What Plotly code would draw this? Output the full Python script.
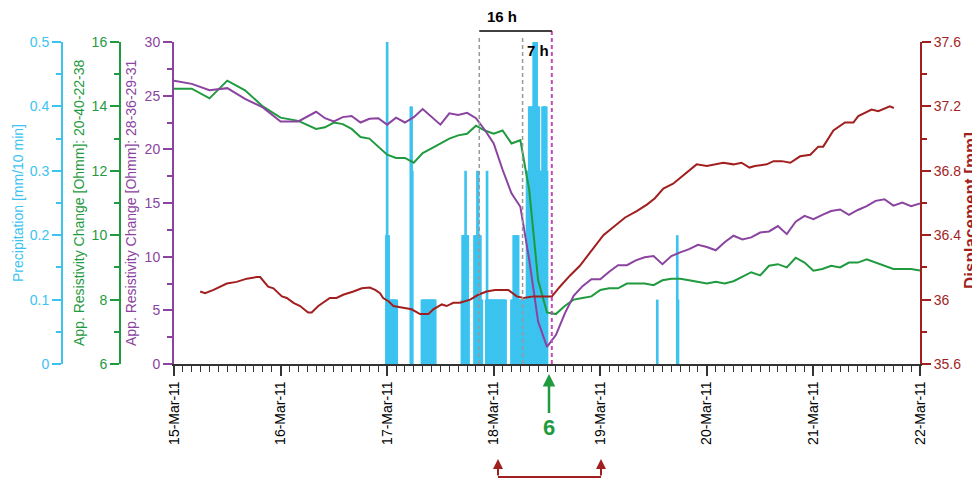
import pandas as pd
import plotly.graph_objects as go

# ---------------- data ----------------
BASE = pd.Timestamp("2011-03-15 00:00")

# apparent resistivity series: hours since 15-Mar-2011 00:00
res_hours = [0, 4, 8, 12, 16, 20, 24, 28, 32,
             34, 36, 38, 40, 42, 44, 46, 48, 50, 52, 54, 56, 58, 60, 62, 64, 66, 68,
             70, 72, 74, 76, 78, 80, 82, 84, 86, 88, 90, 92, 94, 96, 98, 100, 102,
             104, 106, 108, 110, 112, 114, 116, 118, 120, 122, 124, 126, 128, 130,
             132, 134, 136, 138, 140, 142, 144, 146, 148, 150, 152, 154, 156, 158,
             160, 162, 164, 166, 168]

res_28_36_29_31 = [26.4, 26.1, 25.5, 25.7, 24.7, 23.9, 22.6, 22.6, 23.5,
                   22.9, 22.6, 23.0, 23.1, 22.5, 22.85, 22.9, 22.3, 22.95, 22.5, 23.0,
                   23.75, 23.05, 22.3, 23.35, 23.2, 23.4, 22.9,
                   21.8, 20.55, 18.1, 15.9, 14.65, 9.7, 3.95, 1.6, 2.7, 4.7, 6.35, 7.25,
                   7.9, 7.9, 8.6, 9.2, 9.2, 9.65, 9.95, 10.05, 9.3, 10.05, 10.4, 10.7,
                   11.1, 10.9, 10.6, 11.35, 11.95, 11.6, 11.8, 12.25, 12.35, 12.85, 12.1,
                   13.25, 13.8, 13.5, 13.9, 14.25, 14.4, 13.9, 14.35, 14.7, 15.2, 15.35,
                   14.75, 15.05, 14.7, 14.95]

res_20_40_22_38 = [14.55, 14.55, 14.25, 14.8, 14.5, 14.0, 13.65, 13.55, 13.3,
                   13.35, 13.5, 13.45, 13.3, 13.05, 13.0, 12.75, 12.5, 12.4, 12.4, 12.25,
                   12.55, 12.7, 12.85, 13.0, 13.1, 13.15, 13.4,
                   13.25, 13.15, 13.25, 12.85, 12.95, 11.4, 8.6, 7.6, 7.55, 7.8, 8.0, 8.05,
                   8.1, 8.3, 8.35, 8.35, 8.5, 8.5, 8.5, 8.45, 8.6, 8.65, 8.65, 8.6,
                   8.55, 8.5, 8.55, 8.5, 8.57, 8.7, 8.85, 8.75, 9.05, 9.1, 9.0,
                   9.3, 9.15, 8.9, 8.95, 9.05, 9.0, 9.15, 9.15, 9.25, 9.15, 9.05,
                   8.95, 8.95, 8.95, 8.9]

# displacement: hours since 15-Mar-2011 00:00
disp_hours = [5.9, 7.0, 8.9, 11.9, 14.1, 16.4, 18.6, 19.4, 21.2, 22.4, 24.3, 25.4,
              26.9, 28.4, 30.2, 31.0, 32.5, 34.0, 35.1, 36.6, 38.1, 40.4, 42.3, 44.1,
              45.3, 46.4, 47.1, 48.3, 49.4, 51.6, 53.5, 55.4, 57.3, 58.4, 60.3, 61.4,
              62.9, 64.4, 66.7, 68.5, 70.4, 72.3, 73.8, 75.3, 77.2, 78.7, 80.9, 85.1,
              86.9, 89.2, 91.4, 93.7, 96.7, 98.9, 101.6, 104.2, 106.5, 108.3, 110.2,
              112.4, 115.5, 117.7, 120.0, 123.7, 126.0, 127.8, 129.6, 130.8, 133.5,
              135.0, 136.9, 138.8, 141.0, 143.3, 145.1, 146.2, 148.5, 151.1, 153.0,
              154.1, 157.1, 158.6, 161.2, 162.1]
disp_mm = [36.05, 36.04, 36.06, 36.10, 36.11, 36.13, 36.14, 36.14, 36.08, 36.07, 36.02,
           36.01, 35.98, 35.96, 35.92, 35.92, 35.96, 35.99, 36.01, 36.01, 36.03, 36.05,
           36.07, 36.075, 36.06, 36.04, 36.01, 35.99, 35.96, 35.95, 35.94, 35.91, 35.91,
           35.94, 35.97, 35.96, 35.98, 35.98, 36.00, 36.03, 36.05, 36.06, 36.06, 36.06,
           36.02, 36.01, 36.02, 36.02, 36.08, 36.15, 36.21, 36.29, 36.40, 36.45, 36.51,
           36.55, 36.59, 36.63, 36.69, 36.72, 36.79, 36.84, 36.83, 36.85, 36.84, 36.85,
           36.82, 36.83, 36.84, 36.86, 36.86, 36.85, 36.89, 36.90, 36.95, 36.95, 37.05,
           37.10, 37.10, 37.14, 37.18, 37.17, 37.20, 37.19]

# precipitation [mm / 10 min]
precip_time = [
    "2011-03-16 23:50", "2011-03-17 00:00", "2011-03-17 00:10", "2011-03-17 00:20",
    "2011-03-17 00:30", "2011-03-17 00:40", "2011-03-17 00:50", "2011-03-17 01:00",
    "2011-03-17 01:10", "2011-03-17 01:20", "2011-03-17 01:30", "2011-03-17 01:40",
    "2011-03-17 01:50", "2011-03-17 02:00", "2011-03-17 02:10",
    "2011-03-17 05:20", "2011-03-17 05:30", "2011-03-17 05:40",
    "2011-03-17 07:50", "2011-03-17 08:00", "2011-03-17 08:10", "2011-03-17 08:20",
    "2011-03-17 08:30", "2011-03-17 08:40", "2011-03-17 08:50", "2011-03-17 09:00",
    "2011-03-17 09:10", "2011-03-17 09:20", "2011-03-17 09:30", "2011-03-17 09:40",
    "2011-03-17 09:50", "2011-03-17 10:00", "2011-03-17 10:10", "2011-03-17 10:20",
    "2011-03-17 10:30", "2011-03-17 10:40", "2011-03-17 10:50",
    "2011-03-17 16:50", "2011-03-17 17:00", "2011-03-17 17:10", "2011-03-17 17:20",
    "2011-03-17 17:30", "2011-03-17 17:40", "2011-03-17 17:50", "2011-03-17 18:00",
    "2011-03-17 18:10", "2011-03-17 18:20",
    "2011-03-17 19:40", "2011-03-17 19:50", "2011-03-17 20:00", "2011-03-17 20:10",
    "2011-03-17 20:20", "2011-03-17 20:30", "2011-03-17 20:40", "2011-03-17 20:50",
    "2011-03-17 21:00", "2011-03-17 21:10", "2011-03-17 21:20",
    "2011-03-17 22:20", "2011-03-17 22:30", "2011-03-17 22:40", "2011-03-17 22:50",
    "2011-03-17 23:00", "2011-03-17 23:10", "2011-03-17 23:20", "2011-03-17 23:30",
    "2011-03-17 23:40", "2011-03-17 23:50", "2011-03-18 00:00", "2011-03-18 00:10",
    "2011-03-18 00:20", "2011-03-18 00:30", "2011-03-18 00:40", "2011-03-18 00:50",
    "2011-03-18 01:00", "2011-03-18 01:10", "2011-03-18 01:20", "2011-03-18 01:30",
    "2011-03-18 01:40", "2011-03-18 01:50", "2011-03-18 02:00", "2011-03-18 02:10",
    "2011-03-18 02:20", "2011-03-18 02:30", "2011-03-18 02:40",
    "2011-03-18 04:00", "2011-03-18 04:10", "2011-03-18 04:20", "2011-03-18 04:30",
    "2011-03-18 04:40", "2011-03-18 04:50", "2011-03-18 05:00", "2011-03-18 05:10",
    "2011-03-18 05:20", "2011-03-18 05:30", "2011-03-18 05:40", "2011-03-18 05:50",
    "2011-03-18 06:00", "2011-03-18 06:10", "2011-03-18 06:20", "2011-03-18 06:30",
    "2011-03-18 06:40", "2011-03-18 06:50", "2011-03-18 07:00", "2011-03-18 07:10",
    "2011-03-18 07:20", "2011-03-18 07:30", "2011-03-18 07:40", "2011-03-18 07:50",
    "2011-03-18 08:00", "2011-03-18 08:10", "2011-03-18 08:20", "2011-03-18 08:30",
    "2011-03-18 08:40", "2011-03-18 08:50", "2011-03-18 09:00", "2011-03-18 09:10",
    "2011-03-18 09:20", "2011-03-18 09:30", "2011-03-18 09:40", "2011-03-18 09:50",
    "2011-03-18 10:00", "2011-03-18 10:10", "2011-03-18 10:20", "2011-03-18 10:30",
    "2011-03-18 10:40", "2011-03-18 10:50", "2011-03-18 11:00", "2011-03-18 11:10",
    "2011-03-18 11:20", "2011-03-18 11:30", "2011-03-18 11:40", "2011-03-18 11:50",
    "2011-03-18 12:00",
    "2011-03-19 12:50", "2011-03-19 17:20", "2011-03-19 17:30",
]
precip_mm = [
    0.2, 0.5, 0.2, 0.2,
    0.1, 0.1, 0.1, 0.1, 0.1, 0.1, 0.1, 0.1, 0.1, 0.1, 0.1,
    0.4, 0.4, 0.3,
    0.1, 0.1, 0.1, 0.1, 0.1, 0.1, 0.1, 0.1, 0.1, 0.1, 0.1, 0.1, 0.1, 0.1, 0.1, 0.1,
    0.1, 0.1, 0.1,
    0.1, 0.2, 0.2, 0.2, 0.2, 0.3, 0.2, 0.2, 0.2, 0.1,
    0.2, 0.2, 0.2, 0.2, 0.3, 0.3, 0.2, 0.2, 0.2, 0.1, 0.1,
    0.1, 0.3, 0.1, 0.1, 0.1, 0.1, 0.1, 0.1, 0.1, 0.1, 0.1, 0.1, 0.1, 0.1, 0.1, 0.1,
    0.1, 0.1, 0.1, 0.1, 0.1, 0.1, 0.1, 0.1, 0.1, 0.1, 0.1,
    0.1, 0.1, 0.1, 0.2, 0.2, 0.2, 0.2, 0.2, 0.2, 0.2, 0.1, 0.1, 0.1, 0.1, 0.1, 0.1,
    0.1, 0.1, 0.1, 0.1, 0.1, 0.3, 0.3, 0.3, 0.4, 0.4, 0.4, 0.4, 0.4, 0.4, 0.5, 0.5,
    0.5, 0.5, 0.5, 0.4, 0.4, 0.4, 0.3, 0.3, 0.3, 0.3, 0.4, 0.4, 0.4, 0.4, 0.4, 0.4,
    0.3,
    0.1, 0.2, 0.1,
]

# event markers
t_start_16h = "2011-03-17 20:45"
t_start_7h = "2011-03-18 06:30"
t_failure = "2011-03-18 13:05"
t_arrow6 = "2011-03-18 12:27"

x_ticks_start = "2011-03-15"
x_ticks_end = "2011-03-22"

# ---------------- styling ----------------
CYAN = "#3cc3ef"
GREEN = "#1f9a3e"
PURPLE = "#8b43a0"
RED = "#a11f1f"
FONT = "Liberation Sans, Arial, sans-serif"
OFF = 8                      # page body margin
W, H = 980 - OFF, 480 - OFF  # figure size
PL, PR, PT, PB = 174, 920, 42, 364  # plot box in screen px


def px_x(p):
    return (p - OFF) / W


def px_y(p):
    return 1 - (p - OFF) / H


res_t = [BASE + pd.Timedelta(hours=h) for h in res_hours]
disp_t = [BASE + pd.Timedelta(hours=h) for h in disp_hours]

fig = go.Figure()
fig.add_trace(go.Bar(x=pd.to_datetime(precip_time), y=precip_mm, yaxis="y",
                     width=0.6 * 3600 * 1000,
                     marker=dict(color=CYAN, line=dict(width=0)), name="Precipitation"))
fig.add_trace(go.Scatter(x=res_t, y=res_20_40_22_38, yaxis="y2", mode="lines",
                         line=dict(color=GREEN, width=2), name="20-40-22-38"))
fig.add_trace(go.Scatter(x=res_t, y=res_28_36_29_31, yaxis="y3", mode="lines",
                         line=dict(color=PURPLE, width=2), name="28-36-29-31"))
fig.add_trace(go.Scatter(x=disp_t, y=disp_mm, yaxis="y4", mode="lines",
                         line=dict(color=RED, width=2), name="Displacement"))


def yax(color, rng, dtick, mdtick, **kw):
    d = dict(range=rng, dtick=dtick, tick0=rng[0], ticks="outside", ticklen=9, tickwidth=2,
             tickcolor=color, showline=True, linecolor=color, linewidth=2,
             minor=dict(dtick=mdtick, tick0=rng[0], ticks="outside", ticklen=5,
                        tickwidth=2, tickcolor=color),
             tickfont=dict(size=14, color=color, family=FONT), showgrid=False,
             zeroline=False, fixedrange=True, automargin=False)
    d.update(kw)
    return d


fig.update_layout(
    width=W, height=H, margin=dict(l=0, r=0, t=0, b=0, autoexpand=False),
    paper_bgcolor="white", plot_bgcolor="white", showlegend=False,
    barmode="overlay", font=dict(family=FONT, size=14),
    xaxis=dict(domain=[px_x(PL), px_x(PR)], anchor="y", type="date",
               range=[x_ticks_start, x_ticks_end], tick0=x_ticks_start,
               dtick=86400000, tickformat="%d-%b-%y", tickangle=-90,
               ticks="outside", ticklen=10, tickwidth=1.5, tickcolor="#333",
               showline=True, linecolor="#333", linewidth=1.5,
               minor=dict(dtick=7200000, ticks="outside", ticklen=6, tickwidth=1.2,
                          tickcolor="#333"),
               tickfont=dict(size=14, color="black", family=FONT),
               showgrid=False, zeroline=False, automargin=False),
    yaxis=yax(CYAN, [0, 0.5], 0.1, 0.05, domain=[px_y(PB), px_y(PT)],
              anchor="free", position=px_x(62), side="left"),
    yaxis2=yax(GREEN, [6, 16], 2, 1, overlaying="y", anchor="free",
               position=px_x(120), side="left"),
    yaxis3=yax(PURPLE, [0, 30], 5, 2.5, overlaying="y", anchor="x", side="left"),
    yaxis4=yax(RED, [35.6, 37.6], 0.4, 0.2, overlaying="y", anchor="x", side="right"),
)

# axis titles
titles = [
    ("Precipitation [mm/10 min]", 18, 203, CYAN, 14, False),
    ("App. Resistivity Change [Ohmm]: 20-40-22-38", 79, 203, GREEN, 14, False),
    ("App. Resistivity Change [Ohmm]: 28-36-29-31", 131, 203, PURPLE, 14, False),
    ("Displacement [mm]", 970, 211, RED, 17, True),
]
for txt, xp, yp, col, fs, bold in titles:
    fig.add_annotation(x=px_x(xp), y=px_y(yp), xref="paper", yref="paper",
                       text=f"<b>{txt}</b>" if bold else txt, textangle=-90,
                       showarrow=False, xanchor="center", yanchor="middle",
                       font=dict(size=fs, color=col, family=FONT))

# event lines
for t in (t_start_16h, t_start_7h):
    fig.add_shape(type="line", xref="x", yref="paper", x0=t, x1=t,
                  y0=px_y(PB), y1=px_y(36), layer="above",
                  line=dict(color="#999999", width=1.5, dash="4px,3px"))
fig.add_shape(type="line", xref="x", yref="paper", x0=t_failure, x1=t_failure,
              y0=px_y(PB), y1=px_y(31), layer="above",
              line=dict(color="#c04cb4", width=2, dash="4px,3px"))
fig.add_shape(type="line", xref="x", yref="paper", x0=t_start_16h, x1=t_failure,
              y0=px_y(31), y1=px_y(31), layer="above",
              line=dict(color="black", width=1.5))
fig.add_annotation(x=px_x(502), y=px_y(17), xref="paper", yref="paper",
                   text="<b>16 h</b>", showarrow=False, xanchor="center",
                   yanchor="middle", font=dict(size=15, color="black", family=FONT))
fig.add_annotation(x=px_x(538), y=px_y(51), xref="paper", yref="paper",
                   text="<b>7 h</b>", showarrow=False, xanchor="center",
                   yanchor="middle", font=dict(size=15, color="black", family=FONT))

# green arrow "6"
fig.add_annotation(x=t_arrow6, y=px_y(374), xref="x", yref="paper",
                   text="<b>6</b>", showarrow=True, ax=0, ay=53,
                   arrowcolor=GREEN, arrowwidth=2.5, arrowhead=2, arrowsize=1,
                   font=dict(size=22, color=GREEN, family=FONT))

# red bracket with arrows
for xp in (498, 601):
    fig.add_annotation(x=px_x(xp), y=px_y(459), xref="paper", yref="paper",
                       text="", showarrow=True, axref="pixel", ayref="pixel",
                       ax=0, ay=18, arrowcolor=RED, arrowwidth=2, arrowhead=2,
                       arrowsize=1)
fig.add_shape(type="line", xref="paper", yref="paper", x0=px_x(498), x1=px_x(601),
              y0=px_y(477), y1=px_y(477), line=dict(color=RED, width=2))

fig.write_html("out.html")
